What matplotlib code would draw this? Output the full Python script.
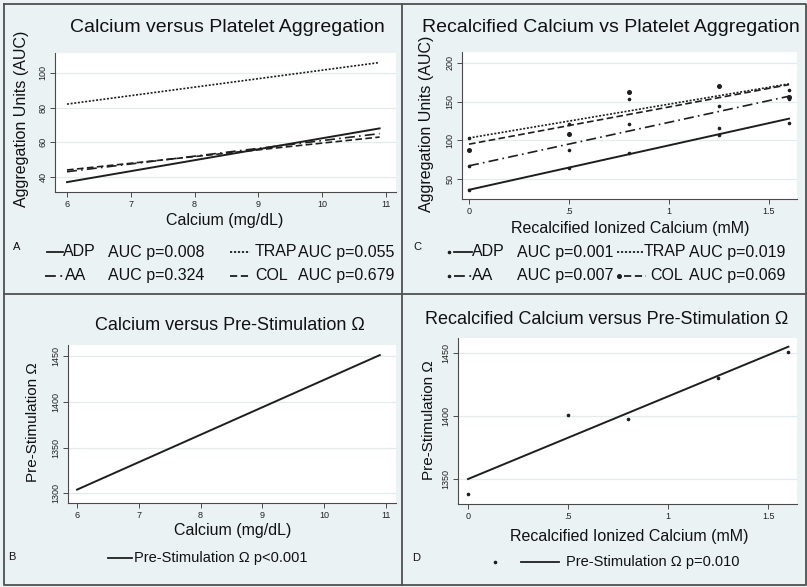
import matplotlib
matplotlib.use("Agg")
import matplotlib.pyplot as plt
from matplotlib.lines import Line2D

plt.rcParams['font.family'] = ['Liberation Sans', 'DejaVu Sans']

# ---- datos ----
calcio = [6.0, 10.9]                     # extremos de las rectas (mg/dL)
adp_a = [37, 68]
aa_a = [43, 65]
trap_a = [82, 106]
col_a = [44, 63]

recal = [0, 0.5, 0.8, 1.25, 1.6]          # calcio recalcificado (mM)
recal_fin = [0, 1.6]
adp_c_pts = [36, 64, 84, 107, 123]
aa_c_pts = [67, 88, 121, 116, 153]
trap_c_pts = [103, 121, 153, 145, 165]
col_c_pts = [88, 108, 162, 170, 156]
adp_c = [36, 128]
aa_c = [67, 157]
trap_c = [103, 173]
col_c = [95, 172]

prestim_b = [1304, 1451]
prestim_d_pts = [1338, 1401, 1398, 1430, 1451]
prestim_d = [1350, 1455]

ticks_a = [40, 60, 80, 100]
ticks_c = [50, 100, 150, 200]
ticks_b = [1300, 1350, 1400, 1450]
ticks_d = [1350, 1400, 1450]
ticks_calcio = [6, 7, 8, 9, 10, 11]
ticks_recal = [0, 0.5, 1, 1.5]
etiq_recal = ['0', '.5', '1', '1.5']

FONDO = '#eaf2f3'
GRID = '#e3eced'
NEGRO = '#1e1e1e'

W, H = 807, 587
fig = plt.figure(figsize=(W / 100, H / 100), dpi=100, facecolor=FONDO)


def rect(l, t, r, b):
    return [l / W, 1 - b / H, (r - l) / W, (b - t) / H]


def fx(x):
    return x / W


def fy(y):
    return 1 - y / H


def texto(x, y, s, size, **kw):
    fig.text(fx(x), fy(y), s, fontsize=size, color='#111111', **kw)


def clave(x0, x1, y, ls, lw=1.3):
    fig.add_artist(Line2D([fx(x0), fx(x1)], [fy(y), fy(y)], transform=fig.transFigure,
                          color=NEGRO, lw=lw, linestyle=ls))


def punto(x, y, ms, marker='o'):
    fig.add_artist(Line2D([fx(x)], [fy(y)], transform=fig.transFigure, color=NEGRO,
                          marker=marker, markersize=ms, linestyle='none'))


def ejes(r, xlim, ylim, yticks, xticks, xlabels=None):
    ax = fig.add_axes(rect(*r))
    ax.set_facecolor('white')
    ax.set_xlim(*xlim)
    ax.set_ylim(*ylim)
    ax.set_yticks(yticks)
    ax.set_yticklabels([str(t) for t in yticks], rotation=90, va='center')
    ax.set_xticks(xticks)
    ax.set_xticklabels(xlabels if xlabels else [str(t) for t in xticks])
    for t in yticks:
        ax.axhline(t, color=GRID, lw=0.9, zorder=0)
    for s in ['top', 'right']:
        ax.spines[s].set_visible(False)
    for s in ['left', 'bottom']:
        ax.spines[s].set_color('#4a4a4a')
        ax.spines[s].set_linewidth(0.8)
    ax.tick_params(labelsize=6.5, length=3.5, width=0.7, color='#4a4a4a', pad=2,
                   labelcolor='#222222')
    return ax


SOLID = '-'
DASHDOT = (0, (6, 2.5, 1, 2.5))
DOT = (0, (1.2, 1.0))
DASH = (0, (4, 2))

# ---- A ----
ax = ejes((55, 53, 396, 192), (5.812, 11.157), (31.3, 111.5), ticks_a, ticks_calcio)
ax.plot(calcio, adp_a, color=NEGRO, lw=1.4, ls=SOLID)
ax.plot(calcio, aa_a, color=NEGRO, lw=1.2, ls=DASHDOT)
ax.plot(calcio, trap_a, color=NEGRO, lw=1.2, ls=DOT)
ax.plot(calcio, col_a, color=NEGRO, lw=1.2, ls=DASH)
texto(227, 28, 'Calcium versus Platelet Aggregation', 14, ha='center', va='center')
texto(225, 220, 'Calcium (mg/dL)', 11.5, ha='center', va='center')
texto(22, 119, 'Aggregation Units (AUC)', 11.5, ha='center', va='center', rotation=90)
texto(17, 247, 'A', 8, ha='center', va='center')
clave(47, 63, 252, SOLID)
texto(63, 252, 'ADP', 11.5, va='center')
texto(108, 252, 'AUC p=0.008', 11.5, va='center')
clave(45, 64, 276, DASHDOT)
texto(65, 276, 'AA', 11.5, va='center')
texto(108, 276, 'AUC p=0.324', 11.5, va='center')
clave(230, 250, 252, DOT)
texto(255, 252, 'TRAP', 11.5, va='center')
texto(298, 252, 'AUC p=0.055', 11.5, va='center')
clave(230, 249, 276, DASH)
texto(255, 276, 'COL', 11.5, va='center')
texto(298, 276, 'AUC p=0.679', 11.5, va='center')

# ---- C ----
ax = ejes((462, 52, 797, 199), (-0.035, 1.64), (24.1, 214.2), ticks_c, ticks_recal, etiq_recal)
ax.plot(recal, adp_c_pts, 'o', color=NEGRO, ms=1.6)
ax.plot(recal, aa_c_pts, 'o', color=NEGRO, ms=1.6)
ax.plot(recal, trap_c_pts, 'o', color=NEGRO, ms=1.6)
ax.plot(recal, col_c_pts, 'o', color=NEGRO, ms=2.6)
ax.plot(recal_fin, adp_c, color=NEGRO, lw=1.4, ls=SOLID)
ax.plot(recal_fin, aa_c, color=NEGRO, lw=1.2, ls=DASHDOT)
ax.plot(recal_fin, trap_c, color=NEGRO, lw=1.2, ls=DOT)
ax.plot(recal_fin, col_c, color=NEGRO, lw=1.2, ls=DASH)
texto(611, 28, 'Recalcified Calcium vs Platelet Aggregation', 14, ha='center', va='center')
texto(630, 228, 'Recalcified Ionized Calcium (mM)', 11.5, ha='center', va='center')
texto(426, 124, 'Aggregation Units (AUC)', 11.5, ha='center', va='center', rotation=90)
texto(417, 247, 'C', 8, ha='center', va='center')
punto(449, 252, 1.6)
clave(454, 472, 252, SOLID)
texto(472, 252, 'ADP', 11.5, va='center')
texto(517, 252, 'AUC p=0.001', 11.5, va='center')
punto(449, 276, 1.6)
clave(454, 472, 276, DASHDOT)
texto(472, 276, 'AA', 11.5, va='center')
texto(517, 276, 'AUC p=0.007', 11.5, va='center')
clave(617, 644, 252, DOT)
texto(644, 252, 'TRAP', 11.5, va='center')
texto(689, 252, 'AUC p=0.019', 11.5, va='center')
punto(619, 276, 2.6)
clave(624, 646, 276, DASH)
texto(650, 276, 'COL', 11.5, va='center')
texto(689, 276, 'AUC p=0.069', 11.5, va='center')

# ---- B ----
ax = ejes((68, 345, 396, 503), (5.854, 11.162), (1289.4, 1462), ticks_b, ticks_calcio)
ax.plot(calcio, prestim_b, color=NEGRO, lw=1.4)
texto(230, 325, 'Calcium versus Pre-Stimulation Ω', 13, ha='center', va='center')
texto(233, 530, 'Calcium (mg/dL)', 11.5, ha='center', va='center')
texto(33, 422, 'Pre-Stimulation Ω', 11, ha='center', va='center', rotation=90)
texto(12, 557, 'B', 8, ha='center', va='center')
clave(108, 132, 558, SOLID)
texto(134, 558, 'Pre-Stimulation Ω p<0.001', 10.5, va='center')

# ---- D ----
ax = ejes((458, 338, 797, 504), (-0.05, 1.643), (1330.2, 1461.9), ticks_d, ticks_recal, etiq_recal)
ax.plot(recal, prestim_d_pts, 'o', color=NEGRO, ms=1.6)
ax.plot(recal_fin, prestim_d, color=NEGRO, lw=1.4)
texto(607, 320, 'Recalcified Calcium versus Pre-Stimulation Ω', 13, ha='center', va='center')
texto(629, 537, 'Recalcified Ionized Calcium (mM)', 11.5, ha='center', va='center')
texto(429, 420, 'Pre-Stimulation Ω', 11, ha='center', va='center', rotation=90)
texto(416, 558, 'D', 8, ha='center', va='center')
punto(495, 562, 1.6)
clave(521, 559, 562, SOLID)
texto(566, 562, 'Pre-Stimulation Ω p=0.010', 10.5, va='center')

# ---- marcos de los paneles ----
borde = dict(transform=fig.transFigure, color='#505050', lw=1.3)
fig.add_artist(Line2D([fx(4), fx(806), fx(806), fx(4), fx(4)],
                      [fy(4), fy(4), fy(585), fy(585), fy(4)], **borde))
fig.add_artist(Line2D([fx(402), fx(402)], [fy(4), fy(585)], **borde))
fig.add_artist(Line2D([fx(4), fx(806)], [fy(294), fy(294)], **borde))

fig.savefig('out.png', dpi=100, facecolor=FONDO)
